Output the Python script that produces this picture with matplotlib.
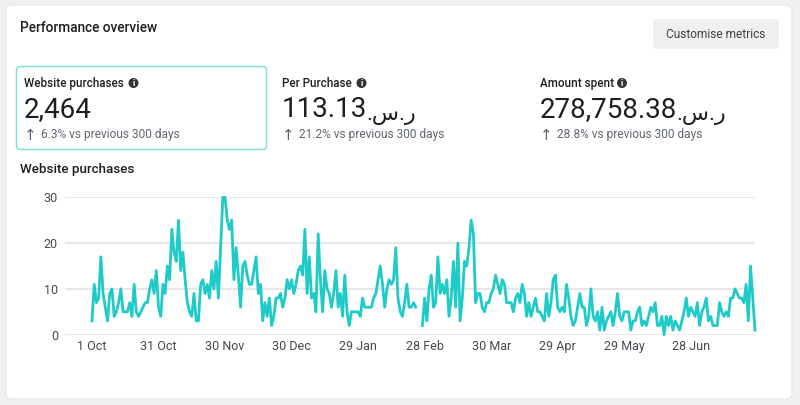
import matplotlib
matplotlib.use('Agg')
import matplotlib.pyplot as plt
from matplotlib.patches import FancyBboxPatch, Circle
import numpy as np

plt.rcParams['font.family'] = ['Roboto', 'DejaVu Sans']

# daily website purchases (two days have no data)
purchases = [
    3, 11, 7, 8, 17, 9, 6, 3, 9, 10, 4, 5, 7, 10, 5, 5, 5, 7, 4, 11,
    5, 4, 5, 6, 7, 7, 10, 12, 9, 14, 6, 4, 11, 9, 15, 12, 23, 18, 16, 25,
    14, 18, 12, 7, 5, 4, 9, 3, 3, 11, 12, 9, 11, 8, 14, 10, 16, 8, 19, 30,
    30, 25, 23, 25, 12, 19, 13, 6, 15, 16, 13, 11, 11, 14, 17, 9, 11, 3, 7, 4,
    8, 2, 4, 8, 8, 9, 6, 8, 12, 10, 12, 9, 11, 14, 15, 13, 23, 9, 17, 8,
    9, 5, 22, 12, 5, 14, 10, 9, 6, 9, 14, 6, 9, 4, 13, 5, 2, 5, 5, 5,
    5, 4, 8, 6, 6, 6, 6, 8, 9, 12, 15, 11, 6, 10, 12, 11, 12, 19, 8, 5,
    4, 7, 11, 6, 6, 7, 6, np.nan, np.nan, 2, 8, 3, 10, 13, 6, 7, 17, 9, 11, 9,
    12, 4, 8, 16, 6, 20, 3, 8, 16, 15, 19, 25, 22, 7, 9, 9, 6, 5, 7, 7,
    9, 10, 13, 11, 9, 12, 11, 7, 7, 7, 5, 8, 9, 7, 11, 9, 4, 7, 4, 6,
    8, 5, 5, 4, 3, 9, 4, 7, 12, 13, 6, 5, 6, 5, 11, 8, 4, 2, 3, 6,
    9, 6, 6, 2, 4, 10, 4, 3, 5, 1, 6, 1, 3, 4, 5, 2, 5, 9, 4, 3,
    5, 5, 5, 1, 3, 3, 5, 6, 2, 3, 2, 4, 6, 5, 7, 2, 2, 4, 0, 4,
    2, 4, 1, 3, 2, 1, 3, 5, 8, 4, 6, 5, 4, 7, 2, 5, 6, 8, 3, 4,
    2, 2, 2, 7, 5, 4, 5, 4, 8, 8, 10, 9, 8, 8, 7, 11, 3, 15, 8, 1,
]
date_labels = ['1 Oct', '31 Oct', '30 Nov', '30 Dec', '29 Jan', '28 Feb', '30 Mar', '29 Apr', '29 May', '28 Jun']
y_ticks = [0, 10, 20, 30]

metric_names = ['Website purchases', 'Per Purchase', 'Amount spent']
metric_values = ['2,464', '113.13', '278,758.38']
metric_suffix = ['', '.\u0633.\u0631', '.\u0633.\u0631']
metric_changes = ['6.3% vs previous 300 days', '21.2% vs previous 300 days', '28.8% vs previous 300 days']
metric_x = [24, 282, 540]
icon_x = [133.5, 361.5, 622]

W, H = 800, 405
TEAL = '#1fcbc8'
DARK = '#1c1e21'
GREY = '#606770'

fig = plt.figure(figsize=(W / 100, H / 100), dpi=100, facecolor='#f0f0f0')

# page layer in pixel coordinates
bg = fig.add_axes([0, 0, 1, 1])
bg.set_xlim(0, W)
bg.set_ylim(H, 0)
bg.axis('off')

bg.add_patch(FancyBboxPatch((6, 5), 786, 394, boxstyle='round,pad=0,rounding_size=6',
                            fc='white', ec='#e6e6e6', lw=0.8))
bg.add_patch(FancyBboxPatch((16.5, 66.5), 250, 83, boxstyle='round,pad=0,rounding_size=4',
                            fc='white', ec='#7fe0de', lw=1.1))
bg.add_patch(FancyBboxPatch((653, 19), 126, 30, boxstyle='round,pad=0,rounding_size=4',
                            fc='#f0f0f0', ec='none'))

bg.text(20, 32, 'Performance overview', fontsize=9.8, fontweight='medium', color=DARK, va='baseline')
bg.text(715.5, 34.5, 'Customise metrics', fontsize=8.6, color='#3c4043', ha='center', va='center')
bg.text(20, 173, 'Website purchases', fontsize=9.6, fontweight='medium', color=DARK, va='baseline')

for name, value, suffix, change, x, ix in zip(metric_names, metric_values, metric_suffix,
                                              metric_changes, metric_x, icon_x):
    bg.text(x, 87, name, fontsize=8.4, fontweight='medium', color=DARK, va='baseline')
    bg.add_patch(Circle((ix, 83), 5, fc='#333333', ec='none'))
    bg.text(ix, 83, 'i', fontsize=6.5, fontweight='bold', color='white', ha='center', va='center')
    t = bg.text(x, 117, value, fontsize=20, color=DARK, va='baseline')
    if suffix:
        bg.annotate(suffix, xy=(1, 0), xycoords=t, xytext=(-1, 3), textcoords='offset pixels',
                    fontsize=16, color=DARK, va='baseline')
    bg.text(x + 6, 135.5, '\u2191', fontsize=11, color=GREY, ha='center', va='center', family='DejaVu Sans')
    bg.text(x + 17, 138, change, fontsize=8.6, color=GREY, va='baseline')

# chart
left, right, top, bottom = 65, 755, 197.3, 334.7
ax = fig.add_axes([left / W, 1 - bottom / H, (right - left) / W, (bottom - top) / H])
ax.patch.set_alpha(0)
days = np.arange(len(purchases))
px_per_day = (right - 92) / (len(purchases) - 1)
ax.set_xlim(-(92 - left) / px_per_day, len(purchases) - 1)
ax.set_ylim(0, 30)
ax.plot(days, purchases, color=TEAL, lw=2.0, solid_joinstyle='round', clip_on=False, zorder=3)

ax.set_yticks(y_ticks)
ax.set_xticks(days[::30])
ax.set_xticklabels(date_labels)
ax.grid(axis='y', color='#e0e0e0', lw=1.1)
ax.grid(axis='x', visible=False)
ax.set_axisbelow(True)
for s in ax.spines.values():
    s.set_visible(False)
ax.tick_params(length=0, labelsize=9, labelcolor='#444950')
ax.tick_params(axis='x', pad=4)
ax.tick_params(axis='y', pad=5)

fig.savefig('out.png', dpi=100, facecolor=fig.get_facecolor())
